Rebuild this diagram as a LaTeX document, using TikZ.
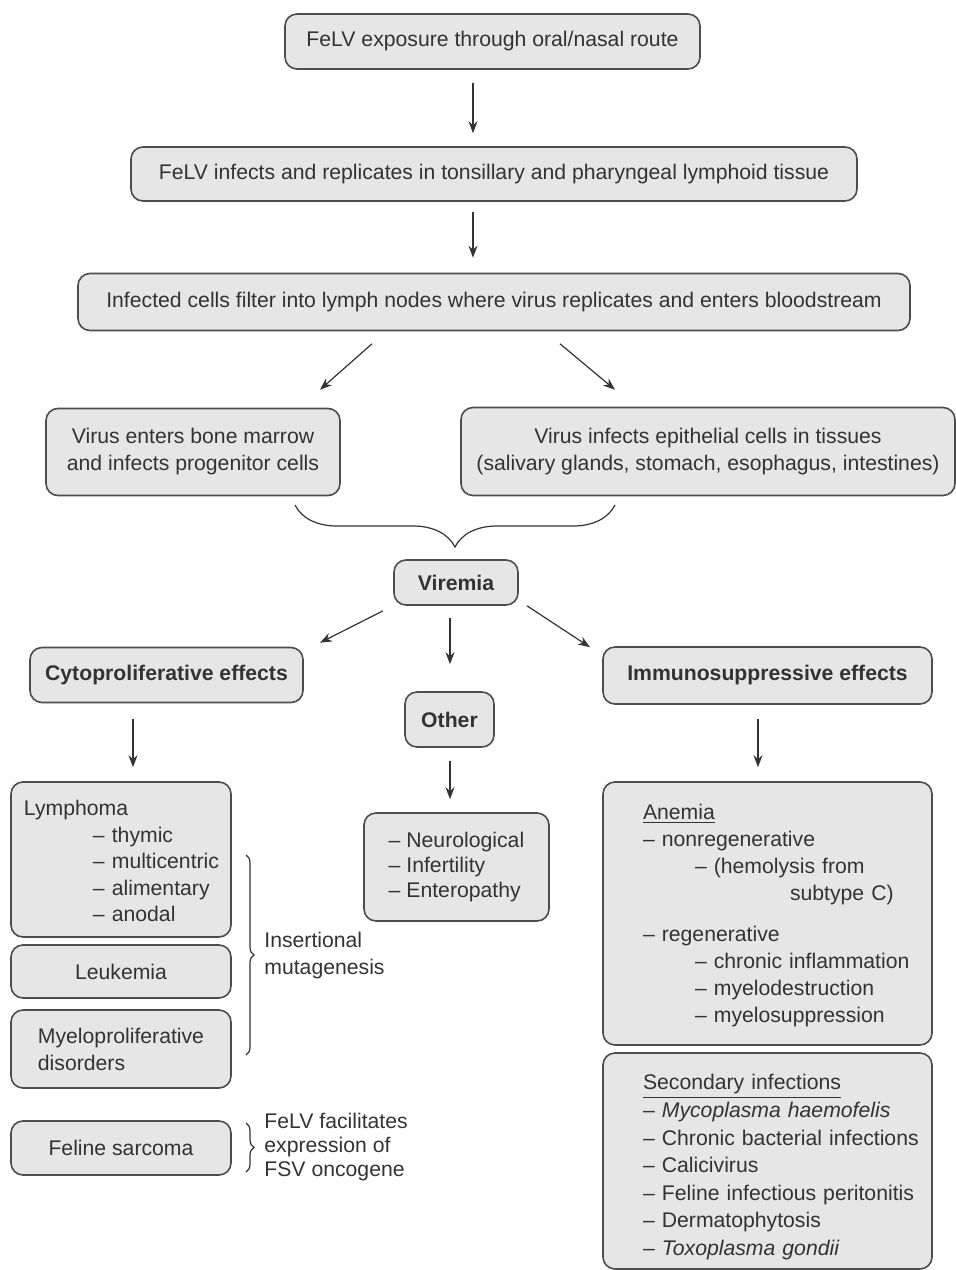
\documentclass[tikz,border=0pt]{standalone}
\usepackage{fontspec}
\setmainfont{Liberation Sans}
\usetikzlibrary{arrows.meta,decorations.pathreplacing}
\definecolor{boxfill}{HTML}{E6E6E6}
\definecolor{boxline}{HTML}{4D4D4D}
\definecolor{txt}{HTML}{333333}
\tikzset{
  box/.style={draw=boxline, fill=boxfill, rounded corners=6pt, line width=0.8pt, text=txt, inner sep=2pt, font=\fontsize{10.6}{13.5}\selectfont},
  arr/.style={draw=txt, line width=0.6pt, -{Stealth[length=6pt,width=4.5pt]}},
  brc/.style={draw=txt, line width=0.6pt, decorate},
  note/.style={text=txt, align=left, inner sep=0pt, font=\fontsize{10.6}{13.5}\selectfont}
}
\begin{document}
\begin{tikzpicture}[x=0.5pt,y=-0.5pt]
	\useasboundingbox (0,0) rectangle (956,1270);
	% top chain
	\node[box, minimum width=207.5pt, minimum height=27.5pt] (expo) at (492.5,41.5) {FeLV exposure through oral/nasal route};
	\node[box, minimum width=363pt, minimum height=27pt] (infect) at (494,174) {FeLV infects and replicates in tonsillary and pharyngeal lymphoid tissue};
	\node[box, minimum width=416pt, minimum height=28.5pt] (filter) at (494,302) {Infected cells filter into lymph nodes where virus replicates and enters bloodstream};
	\node[box, minimum width=147pt, minimum height=43.5pt, align=center] (marrow) at (193,452) {Virus enters bone marrow\\and infects progenitor cells};
	\node[box, minimum width=247pt, minimum height=44pt, align=center] (epith) at (708,451.5) {Virus infects epithelial cells in tissues\\(salivary glands, stomach, esophagus, intestines)};
	\draw[arr] ([shift={(-19.5,13)}]expo.south) -- ([shift={(-21,-13)}]infect.north);
	\draw[arr] ([shift={(-21,10)}]infect.south) -- ([shift={(-21,-15)}]filter.north);
	\draw[arr] ([shift={(-122,12.5)}]filter.south) -- ([shift={(127,-18)}]marrow.north);
	\draw[arr] ([shift={(66,12.5)}]filter.south) -- ([shift={(-93,-17)}]epith.north);
	% brace into viremia
	\coordinate (braceL) at (295,505);
	\coordinate (braceR) at (615,505);
	\draw[brc, decoration={brace, amplitude=21pt, mirror}] (braceL) -- (braceR);
	\node[box, minimum width=62pt, minimum height=22.5pt, font=\bfseries\fontsize{10.6}{13.5}\selectfont] (viremia) at (456,582.5) {Viremia};
	\node[box, minimum width=136.5pt, minimum height=27.5pt, font=\bfseries\fontsize{10.6}{13.5}\selectfont] (cyto) at (166.5,675) {Cytoproliferative effects};
	\node[box, minimum width=44.5pt, minimum height=27.5pt, font=\bfseries\fontsize{10.6}{13.5}\selectfont] (other) at (449.5,719.5) {Other};
	\node[box, minimum width=164.5pt, minimum height=28.5pt, font=\bfseries\fontsize{10.6}{13.5}\selectfont] (immuno) at (767.5,675.5) {Immunosuppressive effects};
	\draw[arr] ([shift={(-73,5)}]viremia.south) -- ([shift={(153.5,-4)}]cyto.north);
	\draw[arr] ([shift={(-6,12)}]viremia.south) -- ([shift={(0.5,-27)}]other.north);
	\draw[arr] ([shift={(71,0)}]viremia.south) -- ([shift={(-177.5,1)}]immuno.north);
	% left column
	\node[box, minimum width=110pt, minimum height=77.5pt, text width=97pt, inner xsep=6.5pt, align=left, font=\fontsize{10.6}{13.25}\selectfont] (lymphoma) at (121,859.5) {\begin{tabular}{@{}l@{}}\rule{0pt}{13.3pt}Lymphoma\\ \hspace*{34.5pt}– thymic\\ \hspace*{34.5pt}– multicentric\\ \hspace*{34.5pt}– alimentary\\ \hspace*{34.5pt}– anodal\end{tabular}};
	\node[box, minimum width=110pt, minimum height=26.5pt] (leuk) at (121,971.5) {Leukemia};
	\node[box, minimum width=110pt, minimum height=39pt, align=left] (myelo) at (121,1049) {Myeloproliferative\\disorders};
	\node[box, minimum width=110pt, minimum height=27pt] (sarcoma) at (121,1148) {Feline sarcoma};
	\draw[arr] ([shift={(-33.5,16)}]cyto.south) -- ([shift={(12,-14)}]lymphoma.north);
	\coordinate (insTop) at (246,855);
	\coordinate (insBot) at (246,1055);
	\draw[brc, decoration={brace, amplitude=4pt}] (insTop) -- (insBot);
	\node[note, anchor=west] (insert) at (264,955.5) {Insertional\\mutagenesis};
	\coordinate (fsvTop) at (246,1123);
	\coordinate (fsvBot) at (246,1172);
	\draw[brc, decoration={brace, amplitude=4pt}] (fsvTop) -- (fsvBot);
	\node[note, anchor=west, font=\fontsize{10.6}{12}\selectfont] (fsv) at (264,1147) {FeLV facilitates\\expression of\\FSV oncogene};
	% middle column
	\node[box, minimum width=92.5pt, minimum height=54pt, align=left, font=\fontsize{10.6}{12.5}\selectfont] (otherlist) at (456.5,867) {– Neurological\\– Infertility\\– Enteropathy};
	\draw[arr] ([shift={(0.5,13)}]other.south) -- ([shift={(-6.5,-13)}]otherlist.north);
	% right column
	\node[box, minimum width=164.5pt, minimum height=131.5pt, text width=124.5pt, inner xsep=20pt, align=left] (anemia) at (767.5,913.5) {\begin{tabular}{@{}l@{}}\rule{0pt}{11.5pt}\underline{Anemia}\\
		– nonregenerative\\
		\hspace*{26pt}– (hemolysis from\\
		\hspace*{73.5pt}subtype C)\\[7pt]
		– regenerative\\
		\hspace*{26pt}– chronic inflammation\\
		\hspace*{26pt}– myelodestruction\\
		\hspace*{26pt}– myelosuppression\end{tabular}};
	\node[box, minimum width=164.5pt, minimum height=108pt, text width=124.5pt, inner xsep=20pt, align=left, font=\fontsize{10.6}{13.8}\selectfont] (secondary) at (767.5,1161) {\begin{tabular}{@{}l@{}}\rule{0pt}{15.7pt}\underline{Secondary infections}\\
		– \textit{Mycoplasma haemofelis}\\
		– Chronic bacterial infections\\
		– Calicivirus\\
		– Feline infectious peritonitis\\
		– Dermatophytosis\\
		– \textit{Toxoplasma gondii}\end{tabular}};
	\draw[arr] ([shift={(-9.5,14)}]immuno.south) -- ([shift={(-9.5,-14)}]anemia.north);
\end{tikzpicture}
\end{document}
